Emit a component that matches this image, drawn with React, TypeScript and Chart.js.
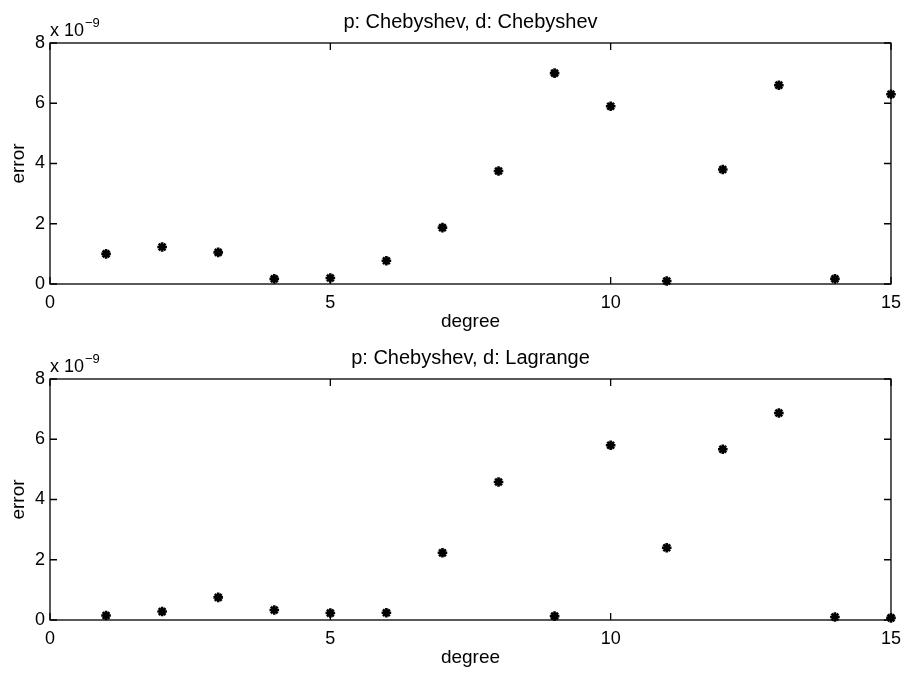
import React, { useEffect, useRef } from "react";
import { Chart, registerables } from "chart.js";

Chart.register(...registerables);

const degrees = [1, 2, 3, 4, 5, 6, 7, 8, 9, 10, 11, 12, 13, 14, 15];
// errors in units of 1e-9
const errorChebChebyshev = [1.0, 1.23, 1.05, 0.17, 0.2, 0.77, 1.87, 3.75, 7.0, 5.9, 0.1, 3.8, 6.6, 0.17, 6.3];
const errorChebLagrange = [0.15, 0.28, 0.75, 0.33, 0.23, 0.24, 2.23, 4.58, 0.13, 5.8, 2.4, 5.67, 6.87, 0.1, 0.07];
const titles = ["p: Chebyshev, d: Chebyshev", "p: Chebyshev, d: Lagrange"];
const xTicks = [0, 5, 10, 15];
const yTicks = [0, 2, 4, 6, 8];
const exponentBase = "x 10";
const exponentPower = "\u22129";
const xLabel = "degree";
const yLabel = "error";

const FONT = "'Liberation Sans', Arial, Helvetica, sans-serif";

const boxPlugin = {
  id: "matlabBox",
  afterDraw(chart: any, _args: any, opts: any) {
    const { ctx, chartArea } = chart;
    const { left, right, top, bottom } = chartArea;
    const xs = chart.scales.x;
    const ys = chart.scales.y;
    ctx.save();
    ctx.strokeStyle = "#000";
    ctx.lineWidth = 1.3;
    ctx.strokeRect(left, top, right - left, bottom - top);
    const tl = 7;
    ctx.beginPath();
    xTicks.forEach((v) => {
      const px = xs.getPixelForValue(v);
      ctx.moveTo(px, bottom);
      ctx.lineTo(px, bottom - tl);
      ctx.moveTo(px, top);
      ctx.lineTo(px, top + tl);
    });
    yTicks.forEach((v) => {
      const py = ys.getPixelForValue(v);
      ctx.moveTo(left, py);
      ctx.lineTo(left + tl, py);
      ctx.moveTo(right, py);
      ctx.lineTo(right - tl, py);
    });
    ctx.stroke();

    // title
    ctx.fillStyle = "#000";
    ctx.font = `20px ${FONT}`;
    ctx.textAlign = "center";
    ctx.textBaseline = "alphabetic";
    ctx.fillText(opts.title, (left + right) / 2, top - 15);

    // exponent
    ctx.textAlign = "left";
    ctx.font = `18px ${FONT}`;
    ctx.fillText(exponentBase, left, top - 7);
    const w = ctx.measureText(exponentBase).width;
    ctx.font = `13px ${FONT}`;
    ctx.fillText(exponentPower, left + w + 1, top - 16);
    ctx.restore();
  },
};

function Panel({ values, title }: { values: number[]; title: string }) {
  const ref = useRef<HTMLCanvasElement>(null);
  useEffect(() => {
    if (!ref.current) return;
    const chart = new Chart(ref.current, {
      type: "scatter",
      data: {
        datasets: [
          {
            data: degrees.map((d, i) => ({ x: d, y: values[i] })),
            pointStyle: "star",
            radius: 4.8,
            borderWidth: 2.6,
            borderColor: "#000",
            backgroundColor: "#000",
            clip: false,
          } as any,
        ],
      },
      options: {
        responsive: false,
        animation: false,
        layout: { padding: { top: 43, right: 17, left: 0, bottom: 0 } },
        plugins: {
          legend: { display: false },
          tooltip: { enabled: false },
          matlabBox: { title },
        } as any,
        scales: {
          x: {
            type: "linear",
            min: 0,
            max: 15,
            afterFit: (s: any) => {
              s.height = 52;
            },
            afterBuildTicks: (s: any) => {
              s.ticks = xTicks.map((v) => ({ value: v }));
            },
            grid: { display: false, drawTicks: false },
            border: { display: false },
            ticks: { color: "#000", font: { size: 18, family: FONT }, padding: 8, maxRotation: 0 },
            title: {
              display: true,
              text: xLabel,
              color: "#000",
              font: { size: 19, family: FONT },
              padding: { top: 0, bottom: 2.5 },
            },
          },
          y: {
            type: "linear",
            min: 0,
            max: 8,
            afterFit: (s: any) => {
              s.width = 50;
            },
            afterBuildTicks: (s: any) => {
              s.ticks = yTicks.map((v) => ({ value: v }));
            },
            grid: { display: false, drawTicks: false },
            border: { display: false },
            ticks: { color: "#000", font: { size: 18, family: FONT }, padding: 5 },
            title: {
              display: true,
              text: yLabel,
              color: "#000",
              font: { size: 19, family: FONT },
              padding: { top: 7.5, bottom: 0 },
            },
          },
        },
      },
      plugins: [boxPlugin],
    });
    return () => chart.destroy();
  }, [values, title]);
  return <canvas ref={ref} width={909} height={336} style={{ display: "block" }} />;
}

export default function App() {
  return (
    <div style={{ position: "fixed", left: 0, top: 0, width: 909, height: 673, background: "#fff" }}>
      <Panel values={errorChebChebyshev} title={titles[0]} />
      <Panel values={errorChebLagrange} title={titles[1]} />
    </div>
  );
}
